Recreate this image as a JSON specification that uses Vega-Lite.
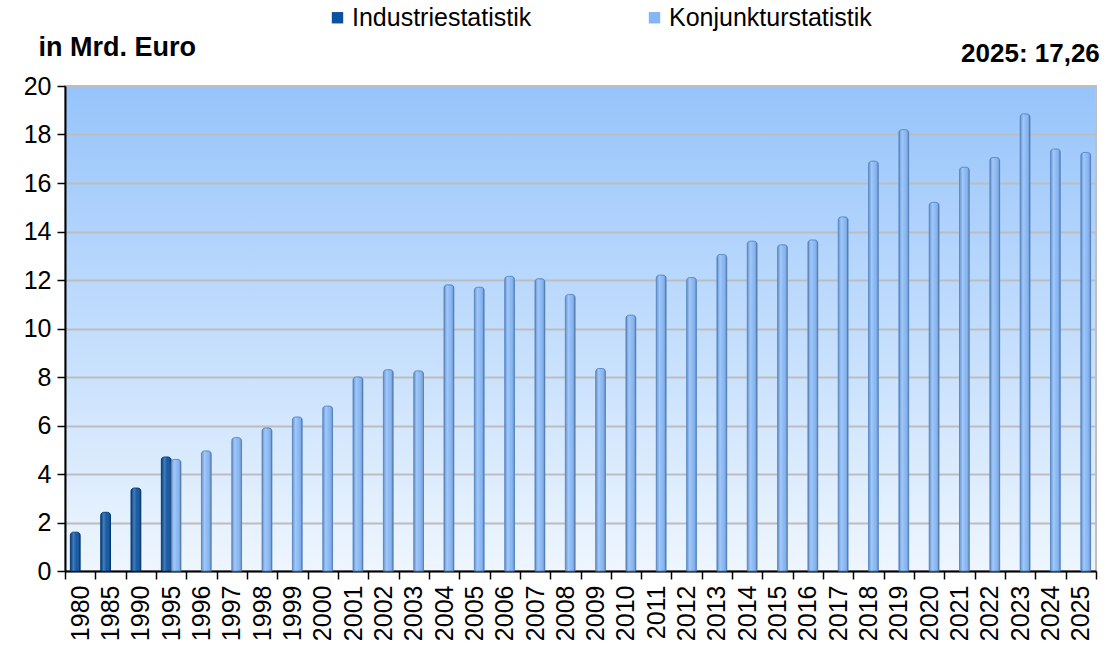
{
  "$schema": "https://vega.github.io/schema/vega-lite/v6.json",
  "width": 1031,
  "height": 485,
  "autosize": {"type": "none"},
  "padding": {"left": 65, "top": 86, "right": 14, "bottom": 76},
  "background": "white",
  "config": {
    "font": "Liberation Sans",
    "view": {
      "fill": {"gradient": "linear", "x1": 0, "y1": 0, "x2": 0, "y2": 1,
        "stops": [{"offset": 0, "color": "#96c4fb"}, {"offset": 1, "color": "#eef6fe"}]},
      "stroke": "#c0c0c0",
      "strokeWidth": 2
    }
  },
  "data": {"values": [
    {"year": "1980", "series": "Industriestatistik", "value": 1.6},
    {"year": "1985", "series": "Industriestatistik", "value": 2.42},
    {"year": "1990", "series": "Industriestatistik", "value": 3.42},
    {"year": "1995", "series": "Industriestatistik", "value": 4.7},
    {"year": "1995", "series": "Konjunkturstatistik", "value": 4.6},
    {"year": "1996", "series": "Konjunkturstatistik", "value": 4.95},
    {"year": "1997", "series": "Konjunkturstatistik", "value": 5.5},
    {"year": "1998", "series": "Konjunkturstatistik", "value": 5.9},
    {"year": "1999", "series": "Konjunkturstatistik", "value": 6.35},
    {"year": "2000", "series": "Konjunkturstatistik", "value": 6.8},
    {"year": "2001", "series": "Konjunkturstatistik", "value": 8.0},
    {"year": "2002", "series": "Konjunkturstatistik", "value": 8.3},
    {"year": "2003", "series": "Konjunkturstatistik", "value": 8.25},
    {"year": "2004", "series": "Konjunkturstatistik", "value": 11.8},
    {"year": "2005", "series": "Konjunkturstatistik", "value": 11.7},
    {"year": "2006", "series": "Konjunkturstatistik", "value": 12.15},
    {"year": "2007", "series": "Konjunkturstatistik", "value": 12.05},
    {"year": "2008", "series": "Konjunkturstatistik", "value": 11.4},
    {"year": "2009", "series": "Konjunkturstatistik", "value": 8.35},
    {"year": "2010", "series": "Konjunkturstatistik", "value": 10.55},
    {"year": "2011", "series": "Konjunkturstatistik", "value": 12.2},
    {"year": "2012", "series": "Konjunkturstatistik", "value": 12.1},
    {"year": "2013", "series": "Konjunkturstatistik", "value": 13.05},
    {"year": "2014", "series": "Konjunkturstatistik", "value": 13.6},
    {"year": "2015", "series": "Konjunkturstatistik", "value": 13.45},
    {"year": "2016", "series": "Konjunkturstatistik", "value": 13.65},
    {"year": "2017", "series": "Konjunkturstatistik", "value": 14.6},
    {"year": "2018", "series": "Konjunkturstatistik", "value": 16.9},
    {"year": "2019", "series": "Konjunkturstatistik", "value": 18.2},
    {"year": "2020", "series": "Konjunkturstatistik", "value": 15.2},
    {"year": "2021", "series": "Konjunkturstatistik", "value": 16.65},
    {"year": "2022", "series": "Konjunkturstatistik", "value": 17.05},
    {"year": "2023", "series": "Konjunkturstatistik", "value": 18.85},
    {"year": "2024", "series": "Konjunkturstatistik", "value": 17.4},
    {"year": "2025", "series": "Konjunkturstatistik", "value": 17.26}
  ]},
  "layer": [
    {
      "mark": {"type": "bar", "strokeWidth": 1, "cornerRadiusTopLeft": 3, "cornerRadiusTopRight": 3},
      "encoding": {
        "x": {"field": "year", "type": "nominal", "sort": null,
          "scale": {"paddingInner": 0, "paddingOuter": 0},
          "axis": {"title": null, "labelAngle": -90, "labelFontSize": 25, "labelColor": "black",
            "tickBand": "extent", "tickSize": 8, "tickColor": "black", "tickWidth": 1.5,
            "domainColor": "black", "domainWidth": 2, "labelPadding": 6, "grid": false}},
        "xOffset": {"field": "series", "type": "nominal",
          "scale": {"domain": ["Industriestatistik", "Konjunkturstatistik"], "paddingInner": 0, "paddingOuter": 0.55}},
        "y": {"field": "value", "type": "quantitative",
          "scale": {"domain": [0, 20], "nice": false},
          "axis": {"values": [0, 2, 4, 6, 8, 10, 12, 14, 16, 18, 20], "labelFontSize": 25, "labelColor": "black",
            "domainColor": "black", "domainWidth": 2, "tickColor": "black", "tickSize": 8, "tickWidth": 1.5,
            "labelPadding": 6, "gridColor": "#bdbdbd", "gridWidth": 2,
            "title": "in Mrd. Euro", "titleAngle": 0, "titleAlign": "left", "titleBaseline": "alphabetic",
            "titleX": -27, "titleY": -31, "titleFontSize": 27, "titleFontWeight": "bold", "titleColor": "black"}},
        "color": {"field": "series", "type": "nominal",
          "scale": {"domain": ["Industriestatistik", "Konjunkturstatistik"], "range": ["#0a52a0", "#84b6f6"]},
          "legend": {"title": null, "orient": "none", "legendX": 260, "legendY": -81, "direction": "horizontal",
            "labelFontSize": 25, "labelColor": "black", "labelLimit": 400, "symbolType": "square", "symbolSize": 130,
            "symbolStrokeWidth": 0, "columnPadding": 110, "labelOffset": 2}},
        "stroke": {"field": "series", "type": "nominal",
          "scale": {"domain": ["Industriestatistik", "Konjunkturstatistik"], "range": ["#003a78", "#5b8cca"]},
          "legend": null}
      }
    },
    {
      "mark": {"type": "bar", "cornerRadiusTopLeft": 3, "cornerRadiusTopRight": 3,
        "fill": {"gradient": "linear", "x1": 0, "y1": 0, "x2": 1, "y2": 0,
          "stops": [
            {"offset": 0, "color": "rgba(0,0,0,0.12)"},
            {"offset": 0.3, "color": "rgba(255,255,255,0.25)"},
            {"offset": 0.6, "color": "rgba(255,255,255,0.05)"},
            {"offset": 1, "color": "rgba(0,0,0,0.25)"}]}},
      "encoding": {
        "x": {"field": "year", "type": "nominal", "sort": null},
        "xOffset": {"field": "series", "type": "nominal"},
        "y": {"field": "value", "type": "quantitative"}
      }
    },
    {
      "data": {"values": [{"label": "2025: 17,26"}]},
      "mark": {"type": "text", "fontSize": 26, "fontWeight": "bold", "color": "black", "align": "right",
        "baseline": "alphabetic", "dx": 19, "dy": -24},
      "encoding": {
        "text": {"field": "label"},
        "x": {"datum": "2025"},
        "y": {"datum": 20}
      }
    }
  ]
}
